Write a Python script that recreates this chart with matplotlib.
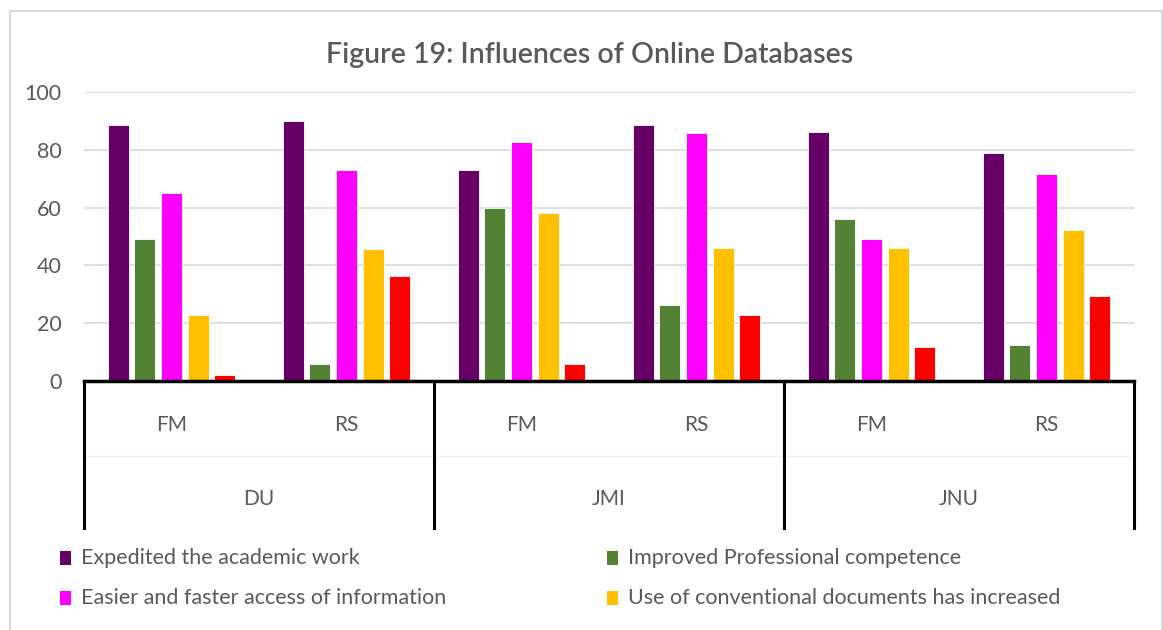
import matplotlib
matplotlib.use("Agg")
import matplotlib.pyplot as plt
import numpy as np
from matplotlib.patches import Rectangle

plt.rcParams['font.family'] = ['Lato', 'DejaVu Sans']

universities = ["DU", "JMI", "JNU"]
groups = ["FM", "RS"]
series_names = [
    "Expedited the academic work",
    "Improved Professional competence",
    "Easier and faster access of information",
    "Use of conventional documents has increased",
    "",
]
colors = ["#660066", "#548235", "#FF00FF", "#FFC000", "#FF0000"]

# values in order: DU-FM, DU-RS, JMI-FM, JMI-RS, JNU-FM, JNU-RS
expedited = [88.5, 90.0, 73.0, 88.5, 86.1, 79.0]
improved = [49.0, 6.0, 59.8, 26.3, 56.0, 12.6]
easier = [65.0, 73.0, 82.8, 85.7, 49.3, 71.5]
conventional = [23.0, 45.6, 58.0, 46.0, 46.0, 52.1]
other = [2.2, 36.2, 6.0, 23.0, 11.6, 29.5]
series = [expedited, improved, easier, conventional, other]

W, H = 1163, 630
fig = plt.figure(figsize=(W / 100, H / 100), dpi=100)
fig.patch.set_facecolor("white")

# outer chart border (bottom edge falls outside the picture)
fig.patches.append(Rectangle((10 / W, -0.05), (1162 - 10) / W, 1.05 - 11 / H,
                             transform=fig.transFigure, fill=False,
                             edgecolor="#D9D9D9", linewidth=1.5))

left, right, top, bottom = 84, 1134, 92, 381
ax = fig.add_axes([left / W, 1 - bottom / H, (right - left) / W, (bottom - top) / H])

n = len(expedited)
x = np.arange(n)
bw = 0.12
pitch = 0.1525
for i, (vals, c) in enumerate(zip(series, colors)):
    off = (i - 2) * pitch
    ax.bar(x + off, vals, width=bw, color=c, edgecolor="white", linewidth=0.6,
           zorder=3)

ax.set_xlim(-0.5, n - 0.5)
ax.set_ylim(0, 100)
ax.set_yticks(np.arange(0, 101, 20))
ax.yaxis.grid(True, color="#D9D9D9", linewidth=1.2, zorder=0)
ax.set_axisbelow(True)
for s in ["top", "right", "left"]:
    ax.spines[s].set_visible(False)
ax.spines["bottom"].set_color("black")
ax.spines["bottom"].set_linewidth(2.5)
ax.spines["bottom"].set_zorder(4)
ax.tick_params(axis="y", length=0, labelsize=15.5, labelcolor="#595959", pad=16)
ax.tick_params(axis="x", length=0, labelbottom=False)

# multi-level category axis
trans = ax.get_xaxis_transform()
sep_bottom = (bottom - 528) / (bottom - top)
sub_y = (bottom - 425) / (bottom - top)
uni_y = (bottom - 499) / (bottom - top)
mid_y = (bottom - 456) / (bottom - top)
for k in range(len(universities) + 1):
    xs = k * 2 - 0.5
    ax.plot([xs, xs], [0, sep_bottom], transform=trans, color="black",
            linewidth=2.2, clip_on=False, zorder=5)
ax.plot([-0.5, n - 0.5], [mid_y, mid_y], transform=trans, color="#F0F0F0",
        linewidth=1, clip_on=False)
for i in range(n):
    ax.text(i, sub_y, groups[i % 2], transform=trans, ha="center", va="center",
            fontsize=15, color="#595959")
for k, u in enumerate(universities):
    ax.text(k * 2 + 0.5, uni_y, u, transform=trans, ha="center", va="center",
            fontsize=15, color="#595959")

# title
fig.text(590 / W, 1 - 55 / H, "Figure 19: Influences of Online Databases",
         ha="center", va="center", fontsize=20.5, fontweight="semibold",
         color="#595959")

# legend (first four entries visible)
leg_pos = [(66, 558), (613, 558), (66, 598), (613, 598)]
for (lx, ly), name, c in zip(leg_pos, series_names[:4], colors[:4]):
    fig.patches.append(Rectangle(((lx - 6) / W, 1 - (ly + 7) / H), 11 / W, 14 / H,
                                 transform=fig.transFigure, facecolor=c,
                                 edgecolor="none"))
    fig.text((lx + 15) / W, 1 - ly / H, name, ha="left", va="center",
             fontsize=15.5, color="#595959")

fig.savefig("out.png", dpi=100, facecolor="white")
